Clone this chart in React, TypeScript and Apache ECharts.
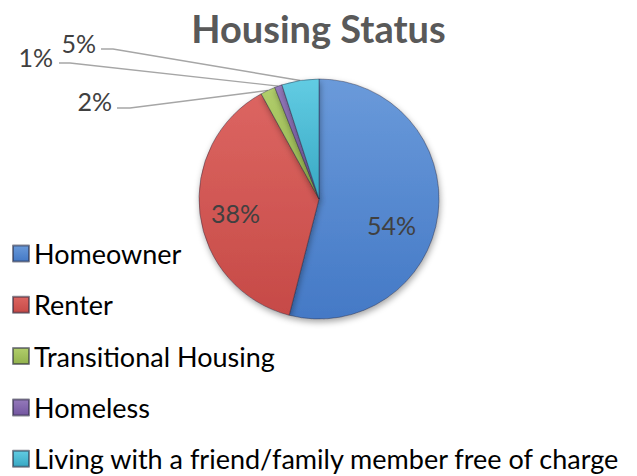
import React, { useEffect, useRef } from "react";
import * as echarts from "echarts";

const chartTitle = "Housing Status";
const categories = [
  "Homeowner",
  "Renter",
  "Transitional Housing",
  "Homeless",
  "Living with a friend/family member free of charge",
];
const values = [54, 38, 2, 1, 5];

const topColors = ["#6A9ADA", "#DC6561", "#B1CE6B", "#957ABB", "#62CCE3"];
const bottomColors = ["#4479C6", "#C64A47", "#92B24D", "#7356A0", "#38A8C3"];

// label placement tweaks (inside shifts, outside anchors)
const insideShift: Record<number, [number, number]> = { 0: [10, 18], 1: [-21, 6] };
const outsideAnchor: Record<number, { x: number; y: number; lineY: number; bend: number; end: number }> = {
  2: { x: 112, y: 101, lineY: 108, end: 117, bend: 130 },
  3: { x: 53, y: 57, lineY: 63, end: 59, bend: 70 },
  4: { x: 96, y: 43, lineY: 49, end: 101, bend: 113 },
};

export default function App() {
  const ref = useRef<HTMLDivElement>(null);
  useEffect(() => {
    if (!ref.current) return;
    const chart = echarts.init(ref.current, null, { renderer: "svg" });
    const data = categories.map((name, i) => ({
      name,
      value: values[i],
      itemStyle: {
        color: new echarts.graphic.LinearGradient(0, 0, 0, 1, [
          { offset: 0, color: topColors[i] },
          { offset: 1, color: bottomColors[i] },
        ]),
      },
      label: { position: i < 2 ? "inside" : "outside" },
      labelLine: { show: i >= 2 },
    }));
    chart.setOption({
      animation: false,
      title: {
        text: chartTitle,
        left: "center",
        top: 9,
        padding: 0,
        textStyle: {
          fontFamily: "Lato",
          fontWeight: "bold",
          fontSize: 38,
          lineHeight: 38,
          color: "#595959",
        },
      },
      legend: {
        orient: "vertical",
        left: 12,
        top: 240,
        padding: 0,
        itemWidth: 16,
        itemHeight: 16,
        itemGap: 24.3,
        icon: "rect",
        textStyle: { fontFamily: "Lato", fontSize: 27, lineHeight: 27, color: "#000" },
        selectedMode: false,
      },
      series: [
        {
          type: "pie",
          center: [319, 199],
          radius: 120,
          startAngle: 90,
          clockwise: true,
          data,
          itemStyle: {
            borderColor: "rgba(40,40,60,0.55)",
            borderWidth: 0.8,
            shadowBlur: 6,
            shadowOffsetX: 1,
            shadowOffsetY: 3,
            shadowColor: "rgba(0,0,0,0.35)",
          },
          label: {
            formatter: (p: any) => Math.round(p.percent) + "%",
            fontFamily: "Lato",
            fontSize: 25,
            color: "#404040",
          },
          labelLine: {
            lineStyle: { color: "#A6A6A6", width: 1.4 },
          },
          labelLayout: (params: any) => {
            const i = params.dataIndex;
            if (insideShift[i]) {
              return { dx: insideShift[i][0], dy: insideShift[i][1] };
            }
            const a = outsideAnchor[i];
            if (!a) return {};
            const start = params.labelLinePoints ? params.labelLinePoints[0] : [0, 0];
            return {
              x: a.x,
              y: a.y,
              align: "right",
              verticalAlign: "middle",
              labelLinePoints: [start, [a.bend, a.lineY], [a.end, a.lineY]],
            };
          },
        },
      ],
    });
    return () => chart.dispose();
  }, []);
  return (
    <div
      ref={ref}
      style={{ position: "fixed", left: 0, top: 0, width: 637, height: 476, background: "#fff" }}
    />
  );
}
